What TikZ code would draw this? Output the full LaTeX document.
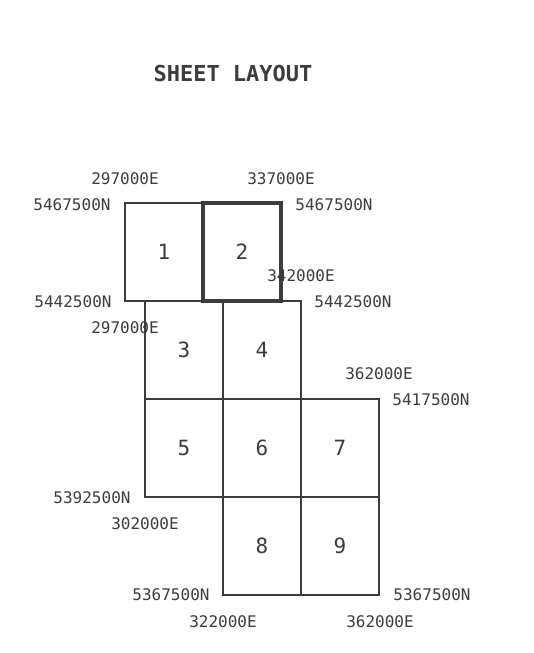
\documentclass[tikz,border=0pt]{standalone}
\usepackage{fontspec}
\setmonofont{DejaVu Sans Mono}
\definecolor{ink}{RGB}{60,60,60}
\begin{document}
\begin{tikzpicture}[x=1pt,y=-1pt,
  sheet/.style={draw=ink,line width=1.1pt,minimum width=78pt,minimum height=98pt,inner sep=0pt,outer sep=0pt,
    text=ink,font=\ttfamily\fontsize{21}{21}\selectfont},
  current/.style={sheet,line width=3.4pt},
  coord/.style={text=ink,inner sep=0pt,font=\ttfamily\fontsize{16}{16}\selectfont},
  titletext/.style={text=ink,inner sep=0pt,font=\ttfamily\bfseries\fontsize{22}{22}\selectfont}]
\useasboundingbox (0,0) rectangle (533,653);
\node[titletext] (title) at (233,73) {SHEET LAYOUT};
% sheets
\node[sheet] (s1) at (164,252) {1};
\node[sheet] (s3) at (184,350) {3};
\node[sheet] (s4) at (262,350) {4};
\node[sheet] (s5) at (184,448) {5};
\node[sheet] (s6) at (262,448) {6};
\node[sheet] (s7) at (340,448) {7};
\node[sheet] (s8) at (262,546) {8};
\node[sheet] (s9) at (340,546) {9};
\node[current] (s2) at (242,252) {2};
% coordinate labels
\node[coord] (l1) at (125,179) {297000E};
\node[coord] (l2) at (72,205) {5467500N};
\node[coord] (l3) at (281,179) {337000E};
\node[coord] (l4) at (334,205) {5467500N};
\node[coord] (l5) at (301,276) {342000E};
\node[coord] (l6) at (353,302) {5442500N};
\node[coord] (l7) at (73,302) {5442500N};
\node[coord] (l8) at (125,328) {297000E};
\node[coord] (l9) at (379,374) {362000E};
\node[coord] (l10) at (431,400) {5417500N};
\node[coord] (l11) at (92,498) {5392500N};
\node[coord] (l12) at (145,524) {302000E};
\node[coord] (l13) at (171,595) {5367500N};
\node[coord] (l14) at (223,622) {322000E};
\node[coord] (l15) at (432,595) {5367500N};
\node[coord] (l16) at (380,622) {362000E};
\end{tikzpicture}
\end{document}
